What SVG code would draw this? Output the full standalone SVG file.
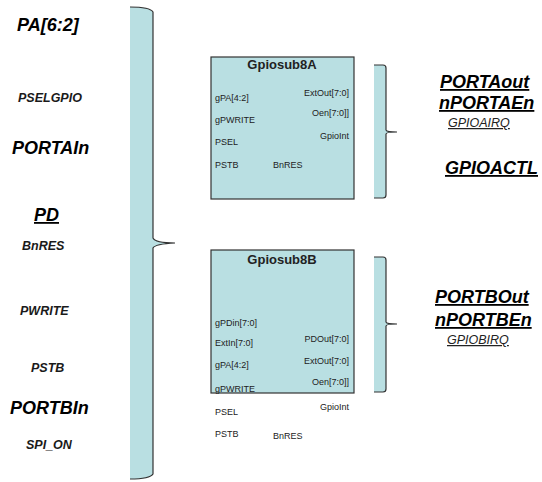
<svg xmlns="http://www.w3.org/2000/svg" width="542" height="482" viewBox="0 0 542 482">
<style>
.bl{font-family:"Liberation Sans",Arial,sans-serif;font-weight:bold;font-style:italic;font-size:18px;fill:#000}
.ml{font-family:"Liberation Sans",Arial,sans-serif;font-weight:bold;font-style:italic;font-size:12.5px;fill:#1a1a1a}
.sl{font-family:"Liberation Sans",Arial,sans-serif;font-style:italic;font-size:12.5px;fill:#222}
.u{text-decoration:underline}
.pin{font-family:"Liberation Sans",Arial,sans-serif;font-size:9px;fill:#222}
.ttl{font-family:"Liberation Sans",Arial,sans-serif;font-weight:bold;font-size:13px;fill:#222}
.box{fill:#b9dfe2;stroke:#333;stroke-width:1.2}
.bf{fill:#b9dfe2;stroke:none}
.bs{fill:none;stroke:#333;stroke-width:1.2}
</style>
<g id="connectors">
<g id="brace-left">
<path class="bf" d="M130,7 Q150,7 153,12 L153,238 Q155,243 175,243 Q155,244 153,248 L153,474 Q150,479 130,479 Z"/>
<path class="bs" d="M130,7 Q150,7 153,12 L153,238 Q155,243 175,243 Q155,244 153,248 L153,474 Q150,479 130,479"/>
</g>
<g id="brace-a">
<path class="bf" d="M374,65 L383,65 Q386,65 386,68 L386,130 Q386,132 397,132 Q386,132 386,134 L386,195 Q386,198 383,198 L374,198 Z"/>
<path class="bs" d="M374,65 L383,65 Q386,65 386,68 L386,130 Q386,132 397,132 Q386,132 386,134 L386,195 Q386,198 383,198 L374,198"/>
</g>
<g id="brace-b">
<path class="bf" d="M374,257 L383,257 Q386,257 386,260 L386,322 Q386,324 397,324 Q386,324 386,326 L386,389 Q386,392 383,392 L374,392 Z"/>
<path class="bs" d="M374,257 L383,257 Q386,257 386,260 L386,322 Q386,324 397,324 Q386,324 386,326 L386,389 Q386,392 383,392 L374,392"/>
</g>
</g>
<g id="left-labels">
<text class="bl" x="17" y="31">PA[6:2]</text>
<text class="ml" x="18" y="102">PSELGPIO</text>
<text class="bl" x="12" y="154">PORTAIn</text>
<text class="bl u" x="34" y="221">PD</text>
<text class="ml" x="22" y="250">BnRES</text>
<text class="ml" x="20" y="315">PWRITE</text>
<text class="ml" x="31" y="372">PSTB</text>
<text class="bl" x="10" y="414">PORTBIn</text>
<text class="ml" x="26" y="449">SPI_ON</text>
</g>
<g id="gpiosub8A">
<rect class="box" x="211" y="57" width="143" height="142"/>
<text class="ttl" x="282" y="69" text-anchor="middle">Gpiosub8A</text>
<text class="pin" x="215" y="101">gPA[4:2]</text>
<text class="pin" x="215" y="123">gPWRITE</text>
<text class="pin" x="215" y="145">PSEL</text>
<text class="pin" x="215" y="168">PSTB</text>
<text class="pin" x="273" y="168">BnRES</text>
<text class="pin" x="349" y="96" text-anchor="end">ExtOut[7:0]</text>
<text class="pin" x="349" y="116" text-anchor="end">Oen[7:0]]</text>
<text class="pin" x="349" y="139" text-anchor="end">GpioInt</text>
</g>
<g id="gpiosub8B">
<rect class="box" x="211" y="250" width="143" height="143"/>
<text class="ttl" x="282" y="264" text-anchor="middle">Gpiosub8B</text>
<text class="pin" x="215" y="326">gPDin[7:0]</text>
<text class="pin" x="215" y="346">ExtIn[7:0]</text>
<text class="pin" x="215" y="368">gPA[4:2]</text>
<text class="pin" x="215" y="392">gPWRITE</text>
<text class="pin" x="215" y="415">PSEL</text>
<text class="pin" x="215" y="437">PSTB</text>
<text class="pin" x="273" y="439">BnRES</text>
<text class="pin" x="349" y="342" text-anchor="end">PDOut[7:0]</text>
<text class="pin" x="349" y="364" text-anchor="end">ExtOut[7:0]</text>
<text class="pin" x="349" y="385" text-anchor="end">Oen[7:0]]</text>
<text class="pin" x="349" y="410" text-anchor="end">GpioInt</text>
</g>
<g id="right-labels">
<text class="bl u" x="440" y="88">PORTAout</text>
<text class="bl u" x="439" y="109">nPORTAEn</text>
<text class="sl u" x="448" y="127">GPIOAIRQ</text>
<text class="bl u" x="445" y="174">GPIOACTL</text>
<text class="bl u" x="435" y="303">PORTBOut</text>
<text class="bl u" x="435" y="326">nPORTBEn</text>
<text class="sl u" x="447" y="344">GPIOBIRQ</text>
</g>
</svg>
